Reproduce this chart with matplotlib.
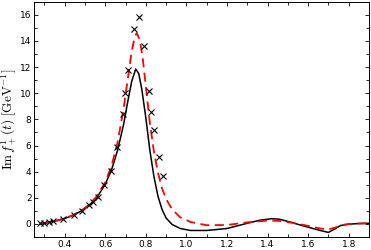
import numpy as np
import matplotlib
matplotlib.use('Agg')
import matplotlib.pyplot as plt
from matplotlib.ticker import MultipleLocator

plt.rcParams['mathtext.fontset'] = 'cm'

# data points (crosses)
x_pts = [0.28, 0.30, 0.32, 0.34, 0.393, 0.444, 0.484, 0.521, 0.538, 0.563,
         0.594, 0.628, 0.656, 0.686, 0.699, 0.714, 0.742, 0.766, 0.793,
         0.817, 0.827, 0.840, 0.863, 0.886]
y_pts = [0.05, 0.10, 0.17, 0.23, 0.38, 0.69, 1.0, 1.45, 1.7, 2.05,
         2.95, 4.05, 5.9, 8.4, 10.0, 11.75, 14.9, 15.8, 13.6,
         10.15, 8.6, 7.2, 5.1, 3.7]

# black solid curve
x_black = [0.28, 0.32, 0.36, 0.40, 0.44, 0.48, 0.52, 0.56, 0.60, 0.63, 0.66,
           0.69, 0.71, 0.73, 0.75, 0.765, 0.78, 0.80, 0.82, 0.84, 0.86, 0.88,
           0.90, 0.93, 0.97, 1.02, 1.10, 1.20, 1.30, 1.36, 1.42, 1.46, 1.52,
           1.60, 1.66, 1.70, 1.73, 1.76, 1.80, 1.85, 1.90]
y_black = [0.0, 0.12, 0.25, 0.42, 0.65, 0.98, 1.42, 2.05, 3.05, 4.1, 5.6,
           7.6, 9.3, 10.9, 11.85, 11.5, 10.3, 8.1, 5.6, 3.6, 2.1, 1.1,
           0.45, -0.05, -0.35, -0.5, -0.5, -0.35, 0.05, 0.28, 0.4, 0.36, 0.1,
           -0.25, -0.5, -0.65, -0.4, -0.12, -0.02, 0.03, 0.05]

# red dashed curve
x_red = [0.28, 0.32, 0.36, 0.40, 0.44, 0.48, 0.52, 0.56, 0.60, 0.63, 0.66,
         0.69, 0.71, 0.73, 0.745, 0.755, 0.77, 0.785, 0.80, 0.82, 0.84, 0.86,
         0.88, 0.90, 0.93, 0.97, 1.02, 1.10, 1.20, 1.30, 1.40, 1.45, 1.52,
         1.60, 1.66, 1.70, 1.74, 1.78, 1.82, 1.90]
y_red = [0.0, 0.12, 0.25, 0.43, 0.67, 1.0, 1.47, 2.15, 3.2, 4.4, 6.2,
         8.8, 11.0, 13.2, 14.3, 14.6, 14.1, 12.6, 10.5, 7.7, 5.5, 3.9,
         2.7, 1.9, 1.1, 0.5, 0.15, -0.1, -0.08, 0.12, 0.26, 0.24, 0.1,
         -0.15, -0.35, -0.42, -0.25, -0.05, 0.02, 0.05]

fig = plt.figure(figsize=(3.71, 2.5), dpi=100)
ax = fig.add_axes([0.0925, 0.052, 0.902, 0.941])

ax.plot(x_black, y_black, color='black', lw=1.1)
ax.plot(x_red, y_red, color='red', lw=1.3, ls=(0, (5, 3)))
ax.plot(x_pts, y_pts, ls='None', marker='x', color='black', ms=4.5, mew=0.8)

ax.set_xlim(0.25, 1.9)
ax.set_ylim(-1, 17)
ax.xaxis.set_major_locator(MultipleLocator(0.2))
ax.xaxis.set_minor_locator(MultipleLocator(0.1))
ax.yaxis.set_major_locator(MultipleLocator(2))
ax.yaxis.set_minor_locator(MultipleLocator(1))
ax.tick_params(which='both', direction='in', top=True, right=True,
               labelsize=6.5, width=0.6, pad=2)
ax.tick_params(which='major', length=3)
ax.tick_params(which='minor', length=2)
for s in ax.spines.values():
    s.set_linewidth(0.7)

ax.set_ylabel(r'$\mathrm{Im}\, f_+^1(t)\ [\mathrm{GeV}^{-1}]$', fontsize=9.5)
ax.yaxis.set_label_coords(-0.047, 0.5)

fig.savefig('out.png', dpi=100)
